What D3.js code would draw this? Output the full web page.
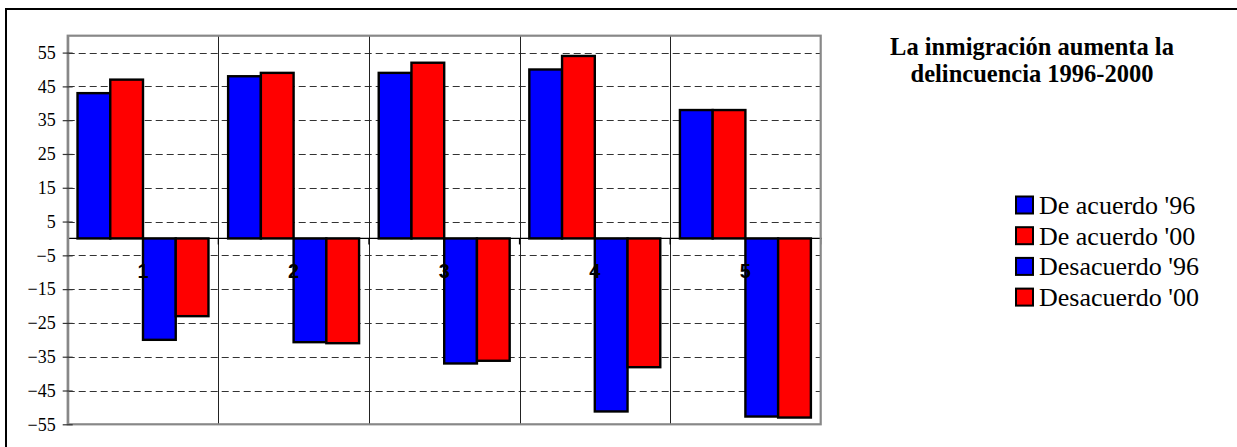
<!DOCTYPE html>
<html>
<head>
<meta charset="utf-8">
<script src="https://cdn.jsdelivr.net/npm/d3@7"></script>
<style>
  html, body { margin: 0; padding: 0; background: #fff; }
  svg { display: block; }
</style>
</head>
<body>
<svg id="chart" width="1237" height="447"></svg>
<script>
// ---- data ----
const categories = ["1", "2", "3", "4", "5"];
const seriesNames = ["De acuerdo '96", "De acuerdo '00", "Desacuerdo '96", "Desacuerdo '00"];
const acuerdo96 = [43, 48, 49, 50, 38];
const acuerdo00 = [47, 49, 52, 54, 38];
const desacuerdo96 = [-30, -30.7, -37, -51.2, -52.7];
const desacuerdo00 = [-23, -31, -36.2, -38.1, -53];
const yTicks = [-55, -45, -35, -25, -15, -5, 5, 15, 25, 35, 45, 55];
const titleLines = ["La inmigración aumenta la", "delincuencia 1996-2000"];
const seriesColors = ["#0000ff", "#ff0000", "#0000ff", "#ff0000"];

const seriesValues = [acuerdo96, acuerdo00, desacuerdo96, desacuerdo00];

const SERIF = "'Liberation Serif', 'Times New Roman', serif";
const SANS = "'Liberation Sans', Arial, sans-serif";

// ---- layout ----
const svg = d3.select("#chart");
const W = 1237, H = 447;
const plot = { left: 67.7, right: 820.7, top: 35.7, bottom: 424.3 };

// outer frame
svg.append("rect").attr("x", 6).attr("y", 9).attr("width", W + 10).attr("height", H + 10)
  .attr("fill", "#fff").attr("stroke", "#000").attr("stroke-width", 2);

const y = d3.scaleLinear().domain([-55, 60]).range([plot.bottom, plot.top]);
const x = d3.scaleBand().domain(categories).range([plot.left, plot.right]).padding(0);
const cw = x.bandwidth();
const gapHalf = cw * 0.3 / 4.6;
const xs = d3.scaleBand().domain(d3.range(seriesNames.length)).range([gapHalf, cw - gapHalf]).padding(0);

const g = svg.append("g");

// plot background
g.append("rect").attr("x", plot.left).attr("y", plot.top)
  .attr("width", plot.right - plot.left).attr("height", plot.bottom - plot.top)
  .attr("fill", "#fff");

// horizontal dashed gridlines
g.selectAll("line.hgrid").data(yTicks.filter(t => t !== -55)).join("line")
  .attr("class", "hgrid")
  .attr("x1", plot.left).attr("x2", plot.right)
  .attr("y1", d => Math.round(y(d)) + 0.5).attr("y2", d => Math.round(y(d)) + 0.5)
  .attr("stroke", "#333").attr("stroke-width", 1.2).attr("stroke-dasharray", "7,4");

// vertical gridlines at category boundaries
g.selectAll("line.vgrid").data(categories.slice(1)).join("line")
  .attr("class", "vgrid")
  .attr("x1", d => Math.round(x(d)) + 0.5).attr("x2", d => Math.round(x(d)) + 0.5)
  .attr("y1", plot.top).attr("y2", plot.bottom)
  .attr("stroke", "#222").attr("stroke-width", 1);

// bars
const barData = [];
categories.forEach((c, i) => {
  seriesValues.forEach((vals, s) => {
    barData.push({ cat: c, s: s, v: vals[i] });
  });
});
g.selectAll("rect.bar").data(barData).join("rect")
  .attr("class", "bar")
  .attr("x", d => x(d.cat) + xs(d.s))
  .attr("width", xs.bandwidth())
  .attr("y", d => y(Math.max(0, d.v)))
  .attr("height", d => Math.abs(y(d.v) - y(0)))
  .attr("fill", d => seriesColors[d.s])
  .attr("stroke", "#000").attr("stroke-width", 2.4);

// zero (category) axis line
g.append("line").attr("x1", plot.left).attr("x2", plot.right + 1)
  .attr("y1", y(0)).attr("y2", y(0))
  .attr("stroke", "#000").attr("stroke-width", 1.2);

// category boundary ticks
const boundaries = categories.slice(1).map(c => x(c)).concat([plot.right]);
g.selectAll("line.ctick").data(boundaries).join("line")
  .attr("class", "ctick")
  .attr("x1", d => d).attr("x2", d => d)
  .attr("y1", y(0)).attr("y2", y(0) + 6)
  .attr("stroke", "#000").attr("stroke-width", 1.2);

// plot border
g.append("rect").attr("x", plot.left).attr("y", plot.top)
  .attr("width", plot.right - plot.left).attr("height", plot.bottom - plot.top)
  .attr("fill", "none").attr("stroke", "#888").attr("stroke-width", 2.2);

// category labels
g.selectAll("text.cat").data(categories).join("text")
  .attr("class", "cat")
  .attr("x", d => x(d) + cw / 2)
  .attr("y", y(0) + 40)
  .attr("text-anchor", "middle")
  .style("font-family", SANS)
  .style("font-weight", "bold")
  .style("font-size", "20px")
  .attr("fill", "#000")
  .text(d => d);

// y axis
const yAxis = d3.axisLeft(y).tickValues(yTicks).tickSizeInner(5).tickSizeOuter(0).tickPadding(7)
  .tickFormat(d3.format("d"));
const ya = svg.append("g").attr("transform", `translate(${plot.left},0)`).call(yAxis);
ya.attr("font-family", null).attr("font-size", null);
ya.select(".domain").attr("stroke", "#888").attr("stroke-width", 2.2);
ya.selectAll(".tick line").attr("x1", 5).attr("x2", -5).attr("stroke", "#333").attr("stroke-width", 1.2);
ya.selectAll(".tick text")
  .style("font-family", SERIF)
  .style("font-size", "18px").attr("fill", "#000");

// title
svg.append("g").selectAll("text").data(titleLines).join("text")
  .attr("x", 1032).attr("y", (d, i) => 54.5 + i * 27.5)
  .attr("text-anchor", "middle")
  .style("font-family", SERIF)
  .style("font-weight", "bold").style("font-size", "24.5px")
  .attr("fill", "#000")
  .text(d => d);

// legend
const lg = svg.append("g").selectAll("g").data(seriesNames).join("g")
  .attr("transform", (d, i) => `translate(1016, ${205 + i * 30.7})`);
lg.append("rect").attr("x", 0).attr("y", -8.5).attr("width", 17).attr("height", 17)
  .attr("fill", (d, i) => seriesColors[i]).attr("stroke", "#000").attr("stroke-width", 2);
lg.append("text").attr("x", 23).attr("y", 9)
  .style("font-family", SERIF)
  .style("font-size", "26px").attr("fill", "#000")
  .text(d => d);
</script>
</body>
</html>
